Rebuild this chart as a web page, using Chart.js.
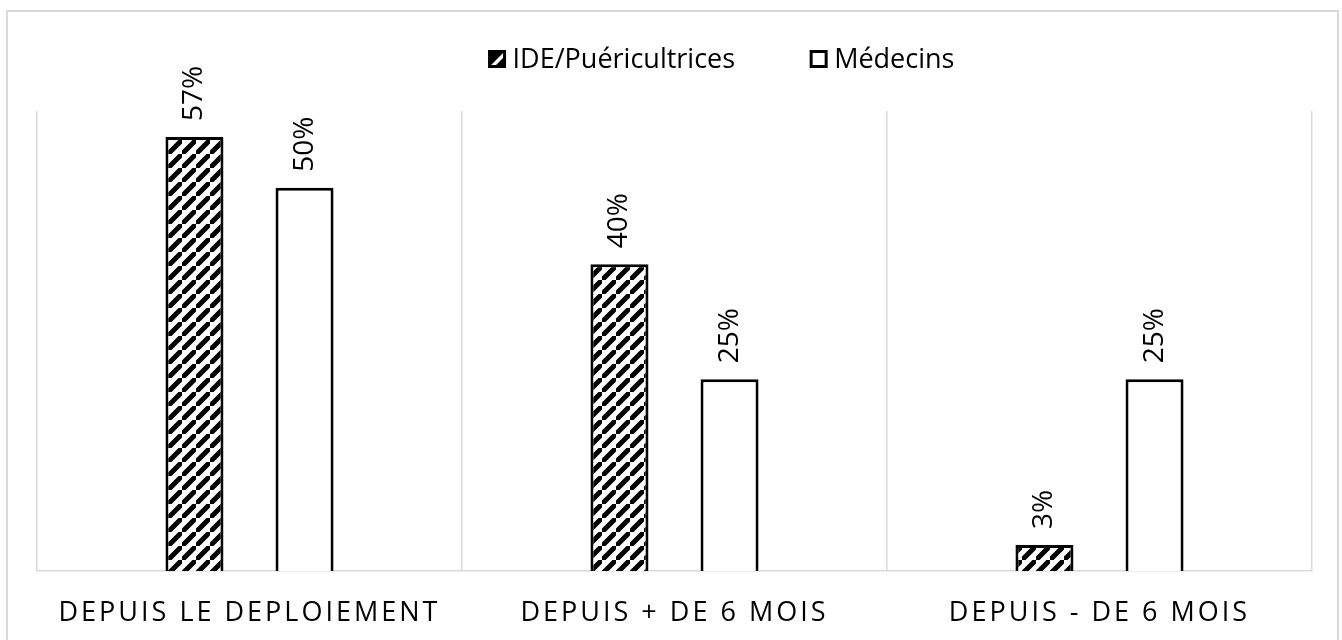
<!DOCTYPE html>
<html>
<head>
<meta charset="utf-8">
<script src="https://cdn.jsdelivr.net/npm/chart.js@4.4.1/dist/chart.umd.min.js"></script>
<style>
  html, body { margin: 0; padding: 0; background: #ffffff; }
  #wrap { position: relative; width: 1342px; height: 640px; }
  #frame { position: absolute; left: 6px; top: 10px; width: 1333px; height: 640px;
           border: 2px solid #d9d9d9; border-bottom: none; box-sizing: border-box; }
  canvas { position: absolute; left: 0; top: 0; }
</style>
</head>
<body>
<div id="wrap">
  <div id="frame"></div>
  <canvas id="chart" width="1342" height="640"></canvas>
</div>
<script>
const categories = ['DEPUIS LE DEPLOIEMENT', 'DEPUIS + DE 6 MOIS', 'DEPUIS - DE 6 MOIS'];
const seriesNames = ['IDE/Puéricultrices', 'Médecins'];
const ideValues = [56.6, 40, 3.4];
const medecinValues = [50, 25, 25];
const yMax = 60;

const FONT = '"Open Sans", "Noto Sans", sans-serif';

function makeHatch() {
    const size = 14;
    const c = document.createElement('canvas');
    c.width = size;
    c.height = size;
    const g = c.getContext('2d');
    g.fillStyle = '#ffffff';
    g.fillRect(0, 0, size, size);
    g.strokeStyle = '#000000';
    g.lineWidth = 5;
    g.beginPath();
    g.moveTo(-size, size * 2); g.lineTo(size * 2, -size);
    g.moveTo(-size * 2, size); g.lineTo(size, -size * 2);
    g.moveTo(0, size * 3); g.lineTo(size * 3, 0);
    g.stroke();
    return g.createPattern(c, 'repeat');
}

const ctx = document.getElementById('chart').getContext('2d');
const hatch = makeHatch();

// letter spacing only for the category labels
const spacingPlugin = {
    id: 'spacing',
    beforeDraw(chart) { chart.ctx.letterSpacing = '3px'; },
    beforeDatasetsDraw(chart) { chart.ctx.letterSpacing = '0px'; }
};

const valueLabels = {
    id: 'valueLabels',
    afterDatasetsDraw(chart) {
        const c = chart.ctx;
        c.save();
        c.fillStyle = '#000000';
        c.font = '28px ' + FONT;
        c.textAlign = 'left';
        c.textBaseline = 'middle';
        chart.data.datasets.forEach((ds, di) => {
            chart.getDatasetMeta(di).data.forEach((bar, i) => {
                c.save();
                c.translate(bar.x, bar.y - 16);
                c.rotate(-Math.PI / 2);
                c.fillText(Math.round(ds.data[i]) + '%', 0, 0);
                c.restore();
            });
        });
        c.restore();
    }
};

const customLegend = {
    id: 'customLegend',
    afterDraw(chart) {
        const c = chart.ctx;
        c.save();
        c.font = '27px ' + FONT;
        c.textBaseline = 'middle';
        c.fillStyle = '#000000';
        const box = 15, gapText = 8, gapItems = 76, y = 59;
        const widths = chart.data.datasets.map(ds => box + gapText + c.measureText(ds.label).width);
        const total = widths.reduce((a, b) => a + b, 0) + gapItems * (widths.length - 1);
        let x = 722 - total / 2;
        chart.data.datasets.forEach((ds, i) => {
            if (i === 0) {
                c.fillStyle = '#000000';
                c.beginPath();
                c.moveTo(x, y + box / 2);
                c.lineTo(x, y - box / 2);
                c.lineTo(x + box, y - box / 2);
                c.closePath();
                c.fill();
                c.beginPath();
                c.moveTo(x + 5, y + box / 2);
                c.lineTo(x + box, y - box / 2 + 5);
                c.lineTo(x + box, y + box / 2);
                c.closePath();
                c.fill();
            }
            c.strokeStyle = '#000000';
            c.lineWidth = 3;
            c.strokeRect(x, y - box / 2, box, box);
            c.fillStyle = '#000000';
            c.fillText(ds.label, x + box + gapText, y + 1);
            x += widths[i] + gapItems;
        });
        c.restore();
    }
};

new Chart(ctx, {
    type: 'bar',
    data: {
        labels: categories,
        datasets: [{
            label: seriesNames[0],
            data: ideValues,
            backgroundColor: hatch,
            borderColor: '#000000',
            borderWidth: 3,
            categoryPercentage: 0.518,
            barPercentage: 0.527
        }, {
            label: seriesNames[1],
            data: medecinValues,
            backgroundColor: '#ffffff',
            borderColor: '#000000',
            borderWidth: 3,
            categoryPercentage: 0.518,
            barPercentage: 0.527
        }]
    },
    options: {
        responsive: false,
        animation: false,
        events: [],
        layout: { padding: { left: 37, right: 30, top: 111, bottom: 0 } },
        plugins: {
            legend: { display: false },
            tooltip: { enabled: false }
        },
        scales: {
            y: {
                display: false,
                min: 0,
                max: yMax
            },
            x: {
                afterFit: (scale) => { scale.height = 69; },
                grid: {
                    display: true,
                    color: '#d9d9d9',
                    lineWidth: 1.5,
                    drawTicks: false
                },
                border: { display: true, color: '#d9d9d9', width: 1.5 },
                ticks: {
                    color: '#000000',
                    padding: 26,
                    font: { family: FONT, size: 27 },
                    maxRotation: 0
                }
            }
        }
    },
    plugins: [spacingPlugin, valueLabels, customLegend]
});
</script>
</body>
</html>
